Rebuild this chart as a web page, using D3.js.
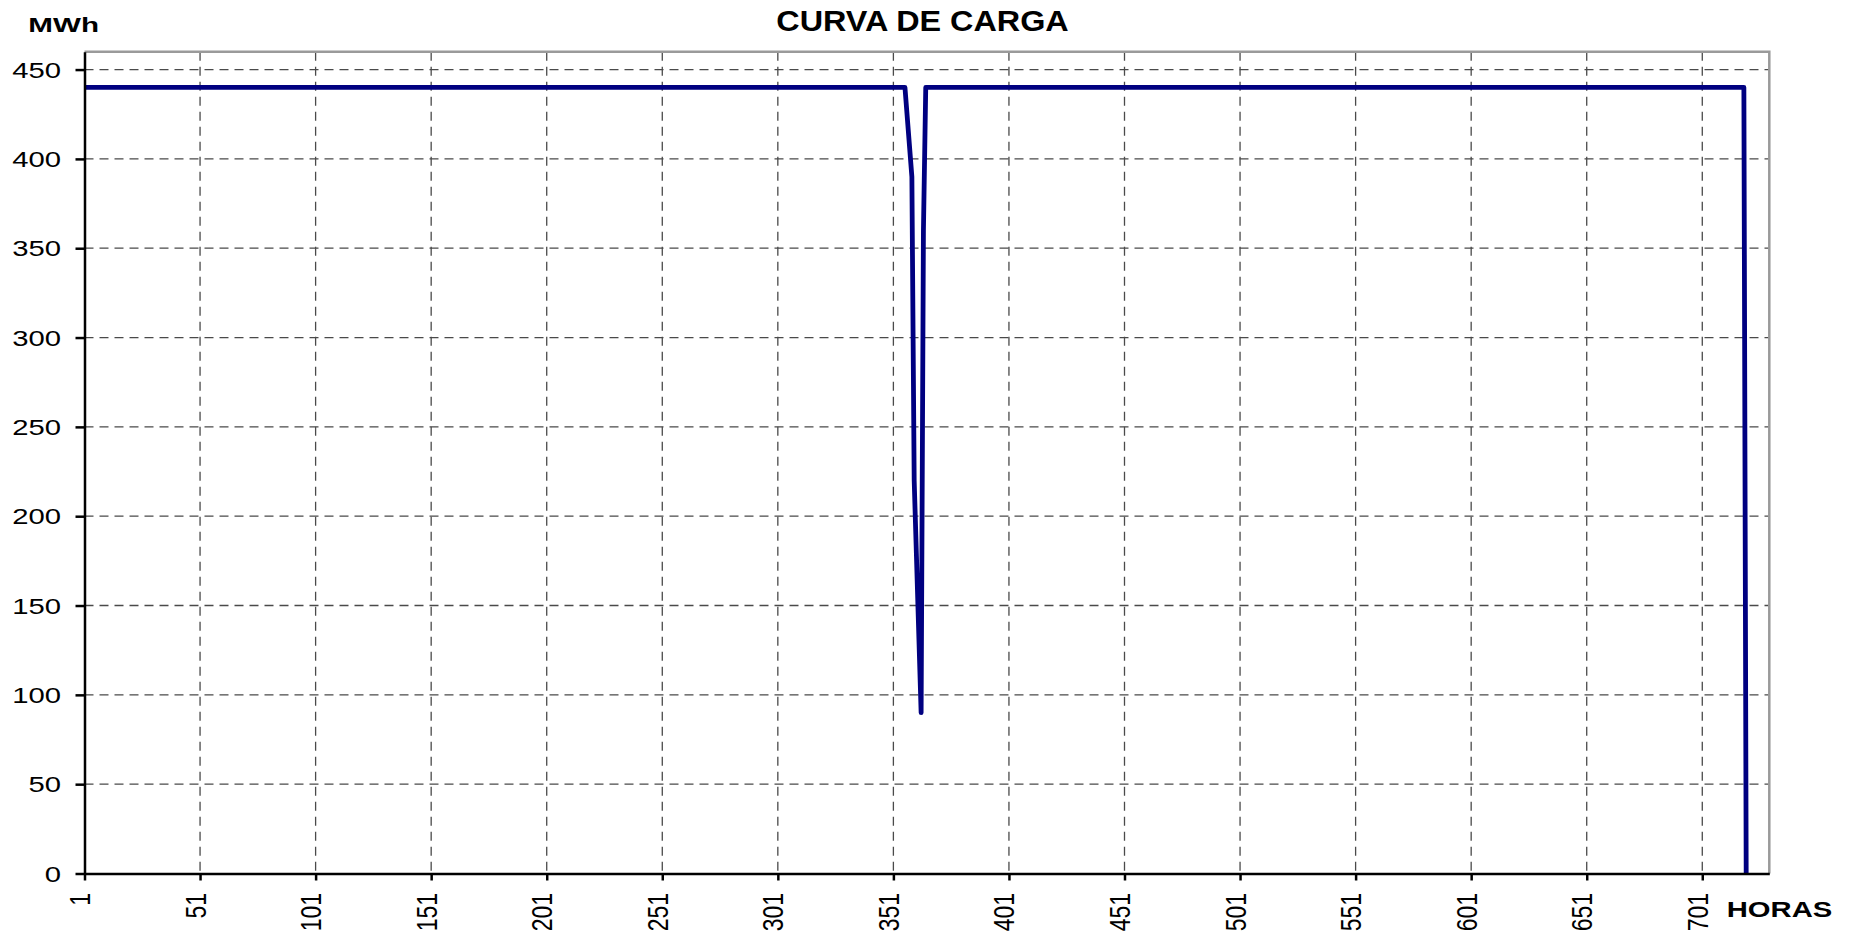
<!DOCTYPE html>
<html>
<head>
<meta charset="utf-8">
<script src="https://cdn.jsdelivr.net/npm/d3@7"></script>
<style>
  body { margin: 0; background: #fff; }
  text { font-family: "Liberation Sans", Arial, sans-serif; fill: #000; }
</style>
</head>
<body>
<script>
// load curve breakpoints (hour -> MWh), flat between points
const hours = [1, 356, 359, 360, 363, 364, 365, 719, 720];
const mwh = [440, 440, 390, 220, 90, 360, 440, 440, 0];

const yTicks = [0, 50, 100, 150, 200, 250, 300, 350, 400, 450];
const xTicks = [1, 51, 101, 151, 201, 251, 301, 351, 401, 451, 501, 551, 601, 651, 701];

const width = 1858, height = 935;
const plotLeft = 84.5, plotRight = 1769.3, plotTop = 51.7, plotBottom = 873.5;

const svg = d3.select("body").append("svg")
    .attr("width", width)
    .attr("height", height);

const x = d3.scaleLinear().domain([1, 730]).range([plotLeft, plotRight]);
const y = d3.scaleLinear().domain([0, 460]).range([plotBottom, plotTop]);

// dashed grid
svg.append("g").selectAll("line")
    .data(yTicks.filter(d => d > 0))
    .enter().append("line")
    .attr("x1", plotLeft).attr("x2", plotRight)
    .attr("y1", d => y(d)).attr("y2", d => y(d))
    .attr("stroke", "#4a4a4a").attr("stroke-width", 1.3)
    .attr("stroke-dasharray", "9,6");

svg.append("g").selectAll("line")
    .data(xTicks.filter(d => d > 1))
    .enter().append("line")
    .attr("x1", d => x(d)).attr("x2", d => x(d))
    .attr("y1", plotTop).attr("y2", plotBottom)
    .attr("stroke", "#4a4a4a").attr("stroke-width", 1.3)
    .attr("stroke-dasharray", "9,6");

// grey frame top and right
svg.append("path")
    .attr("d", `M${plotLeft},${plotTop}H${plotRight}V${plotBottom}`)
    .attr("fill", "none")
    .attr("stroke", "#9a9a9a")
    .attr("stroke-width", 2.5);

// the curve
const pts = hours.map((h, i) => [h, mwh[i]]);
svg.append("path")
    .datum(pts)
    .attr("fill", "none")
    .attr("stroke", "#000080")
    .attr("stroke-width", 4.8)
    .attr("stroke-linejoin", "round")
    .attr("d", d3.line().x(d => x(d[0])).y(d => y(d[1])));

// y axis
const yAxis = svg.append("g")
    .attr("transform", `translate(${plotLeft},0)`)
    .call(d3.axisLeft(y).tickValues(yTicks).tickSize(9).tickSizeOuter(0));
yAxis.select(".domain").attr("stroke", "#000").attr("stroke-width", 2.5);
yAxis.selectAll(".tick line").attr("stroke", "#000").attr("stroke-width", 2.5);
yAxis.selectAll(".tick text")
    .attr("x", -23.5 / 1.33)
    .attr("dy", "0.35em")
    .attr("transform", "scale(1.33,1)")
    .style("font-size", "22px");

// x axis, labels turned upward
const xAxis = svg.append("g")
    .attr("transform", `translate(0,${plotBottom})`)
    .call(d3.axisBottom(x).tickValues(xTicks).tickSize(7).tickSizeOuter(0));
xAxis.select(".domain").attr("stroke", "#000").attr("stroke-width", 2.5);
xAxis.selectAll(".tick line").attr("stroke", "#000").attr("stroke-width", 2.5);
xAxis.selectAll(".tick text")
    .attr("x", 0).attr("y", 0).attr("dy", 0)
    .attr("text-anchor", "end")
    .attr("transform", "translate(5,19.5) rotate(-90) scale(1,1.25)")
    .style("font-size", "23px");

// titles
svg.append("text")
    .attr("text-anchor", "middle")
    .attr("transform", "translate(922.5,31.4) scale(1.116,1)")
    .style("font-size", "29px").style("font-weight", "bold")
    .text("CURVA DE CARGA");

svg.append("text")
    .attr("transform", "translate(28.3,31.7) scale(1.41,1)")
    .style("font-size", "21px").style("font-weight", "bold")
    .text("MWh");

svg.append("text")
    .attr("transform", "translate(1726.7,917.3) scale(1.33,1)")
    .style("font-size", "22px").style("font-weight", "bold")
    .text("HORAS");
</script>
</body>
</html>
